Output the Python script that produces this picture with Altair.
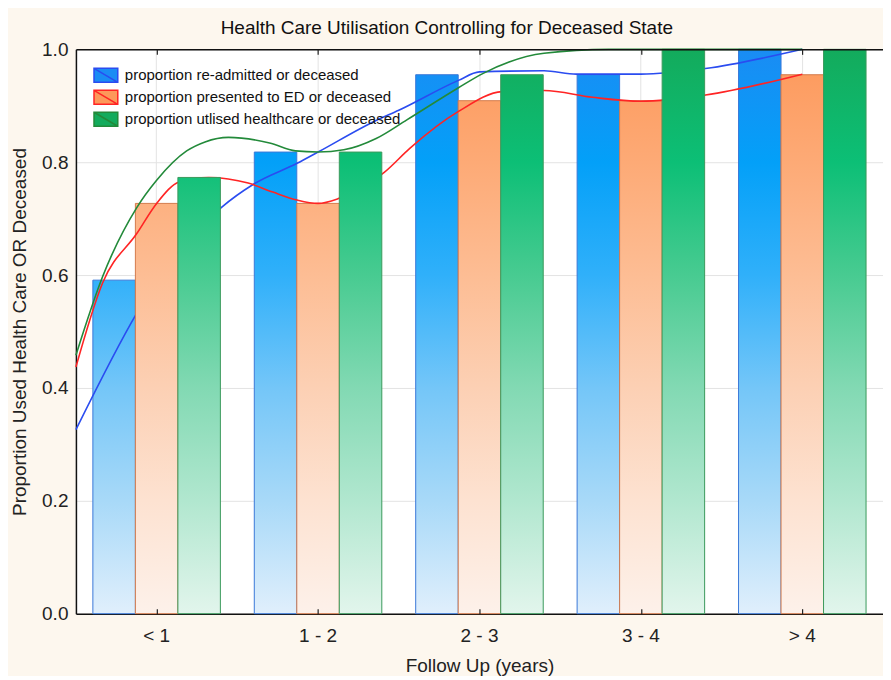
import altair as alt
import pandas as pd

# ---------------- data ----------------
categories = ["< 1", "1 - 2", "2 - 3", "3 - 4", "> 4"]
series_names = [
    "proportion re-admitted or deceased",
    "proportion presented to ED or deceased",
    "proportion utlised healthcare or deceased",
]
readmitted = [0.591, 0.818, 0.955, 0.955, 1.0]
presented_ed = [0.727, 0.727, 0.909, 0.909, 0.955]
utilised = [0.773, 0.818, 0.955, 1.0, 1.0]

# fitted curves (t in category units: 0 = left edge, 0.5 = centre of "< 1")
blue_t = [0.0, 0.378, 0.5, 0.902, 1.1, 1.37, 1.5, 1.86, 2.0, 2.37, 2.5, 2.9, 3.1, 3.5, 3.9, 4.5]
blue_v = [0.326, 0.533, 0.59, 0.72, 0.761, 0.798, 0.818, 0.874, 0.892, 0.945, 0.96, 0.962, 0.956, 0.956, 0.966, 1.0]
red_t = [0.0, 0.165, 0.378, 0.5, 0.64, 0.823, 1.067, 1.22, 1.37, 1.5, 1.63, 1.91, 2.07, 2.37, 2.64, 2.9, 3.2, 3.5, 3.9, 4.5]
red_v = [0.437, 0.586, 0.674, 0.727, 0.765, 0.773, 0.763, 0.747, 0.733, 0.727, 0.736, 0.782, 0.825, 0.89, 0.925, 0.927, 0.915, 0.908, 0.919, 0.956]
green_t = [0.0, 0.165, 0.378, 0.5, 0.686, 0.8, 0.945, 1.2, 1.36, 1.5, 1.66, 1.86, 2.05, 2.37, 2.52, 2.9, 3.3, 3.5, 4.0, 4.5]
green_v = [0.458, 0.597, 0.72, 0.768, 0.82, 0.836, 0.844, 0.834, 0.82, 0.818, 0.822, 0.842, 0.875, 0.932, 0.957, 0.993, 1.0, 1.0, 1.0, 1.0]
centre_ticks = [0.5, 1.5, 2.5, 3.5, 4.5]

# ---------------- styling ----------------
FONT = "Liberation Sans"
grad_stops = [
    [(0, "#1a8cf4"), (0.2, "#03a0f8"), (0.4, "#30b0fa"), (0.6, "#74c6f8"), (0.8, "#a8d9f8"), (1, "#e0effc")],
    [(0, "#fd985a"), (0.2, "#fdaa76"), (0.4, "#fdbd94"), (0.6, "#fcd0b4"), (0.8, "#fde2d1"), (1, "#fdf1ea")],
    [(0, "#13ab5c"), (0.2, "#0cbf76"), (0.4, "#48cb91"), (0.6, "#82d9b3"), (0.8, "#b1e7cf"), (1, "#e2f5ec")],
]
bar_strokes = ["#3a78d8", "#d47a4c", "#3b9a5c"]
line_colors = ["#2a4cf0", "#ff2424", "#238a3a"]
legend_fills = ["#1a8cf4", "#fd985a", "#13ab5c"]

W, H = 808, 565

rows = []
for name, vals in zip(series_names, [readmitted, presented_ed, utilised]):
    for c, v in zip(categories, vals):
        rows.append({"category": c, "series": name, "value": v})
bar_df = pd.DataFrame(rows)

lrows = []
for name, ts, vs in zip(series_names, [blue_t, red_t, green_t], [blue_v, red_v, green_v]):
    for t, v in zip(ts, vs):
        lrows.append({"series": name, "t": t, "v": v})
line_df = pd.DataFrame(lrows)


def grad_expr(stops):
    s = ",".join("{offset:%s,color:'%s'}" % (o, c) for o, c in stops)
    # gradient anchored to the whole plot height (value 1 -> offset 0, value 0 -> offset 1)
    return "{gradient:'linear',x1:0,y1:1-1/datum.value,x2:0,y2:1,stops:[%s]}" % s


y_scale = alt.Scale(domain=[0, 1], nice=False, zero=True)
x_scale = alt.Scale(domain=categories, paddingInner=0.21, paddingOuter=0.105)
xo_scale = alt.Scale(domain=series_names, paddingInner=0, paddingOuter=0)
t_scale = alt.Scale(domain=[0, 5], nice=False, zero=False)

x_axis = alt.Axis(
    title="Follow Up (years)", labelAngle=0, grid=True, gridColor="#e3e3e3",
    ticks=False, domainColor="#111", domainWidth=1.5, labelFont=FONT, labelFontSize=19,
    labelColor="#222", labelPadding=13, titleFont=FONT, titleFontSize=19,
    titleFontWeight="normal", titleColor="#222", titlePadding=11, bandPosition=0.5,
)
y_axis = alt.Axis(
    title="Proportion Used Health Care OR Deceased", values=[0, 0.2, 0.4, 0.6, 0.8, 1.0],
    format=".1f", grid=True, gridColor="#e3e3e3", ticks=False, domainColor="#111",
    domainWidth=1.5, labelFont=FONT, labelFontSize=19, labelColor="#222", labelPadding=8,
    titleFont=FONT, titleFontSize=19, titleFontWeight="normal", titleColor="#222",
    titlePadding=12,
)
curve_axes = [
    # top frame line
    alt.Axis(orient="top", labels=False, ticks=False, grid=False, title=None,
             domainColor="#111", domainWidth=1.5, zindex=1),
    # small inward ticks on the bottom frame
    alt.Axis(orient="bottom", labels=False, ticks=True, tickSize=5, tickColor="#222",
             tickWidth=1.2, domain=False, grid=False, title=None, offset=-5,
             values=centre_ticks, zindex=1),
    # small inward ticks on the top frame
    alt.Axis(orient="top", labels=False, ticks=True, tickSize=5, tickColor="#222",
             tickWidth=1.2, domain=False, grid=False, title=None, offset=-5,
             values=centre_ticks, zindex=1),
]


def bars(i):
    return (
        alt.Chart(bar_df)
        .transform_filter(alt.datum.series == series_names[i])
        .mark_bar(fill={"expr": grad_expr(grad_stops[i])}, stroke=bar_strokes[i], strokeWidth=1)
        .encode(
            x=alt.X("category:N", scale=x_scale, sort=categories, axis=x_axis if i == 0 else None),
            xOffset=alt.XOffset("series:N", scale=xo_scale, sort=series_names),
            y=alt.Y("value:Q", scale=y_scale, axis=y_axis),
        )
    )


def curve(i):
    return (
        alt.Chart(line_df)
        .transform_filter(alt.datum.series == series_names[i])
        .mark_line(color=line_colors[i], strokeWidth=1.6, interpolate="monotone")
        .encode(
            x=alt.X("t:Q", scale=t_scale, axis=curve_axes[i]),
            y=alt.Y("v:Q", scale=y_scale, axis=y_axis),
            order="t:Q",
        )
    )


legend_path = "M-1.7,-1H1.7V1H-1.7ZM-1.7,-1L1.7,1"
leg = alt.Legend(
    title=None, orient="none", legendX=22, legendY=18, symbolType=legend_path,
    symbolSize=196, symbolStrokeWidth=1.5, labelFont=FONT, labelFontSize=15,
    labelColor="#111", labelOffset=11, rowPadding=2, padding=0, labelLimit=400,
)
legend_layer = (
    alt.Chart(bar_df)
    .transform_filter("false")
    .mark_point(filled=True, opacity=1, strokeWidth=1.5, shape=legend_path)
    .encode(
        fill=alt.Fill("series:N", scale=alt.Scale(domain=series_names, range=legend_fills),
                      sort=series_names, legend=leg),
        stroke=alt.Stroke("series:N", scale=alt.Scale(domain=series_names, range=line_colors),
                          sort=series_names, legend=leg),
    )
)

chart = (
    alt.layer(bars(0), curve(0), bars(1), curve(1), bars(2), curve(2), legend_layer)
    .resolve_scale(x="independent", xOffset="independent")
    .properties(
        width=W, height=H, background="#fdf7ee",
        view=alt.ViewBackground(fill="white", stroke=None),
        padding={"left": 2, "top": 11, "right": 0, "bottom": 0},
        title=alt.TitleParams(
            "Health Care Utilisation Controlling for Deceased State", font=FONT,
            fontSize=19, fontWeight="normal", color="#111", anchor="middle",
            frame="bounds", offset=2,
        ),
    )
    .configure_view(stroke=None, fill="white")
)

chart.save("out.html", embed_options={"renderer": "svg", "actions": False})
